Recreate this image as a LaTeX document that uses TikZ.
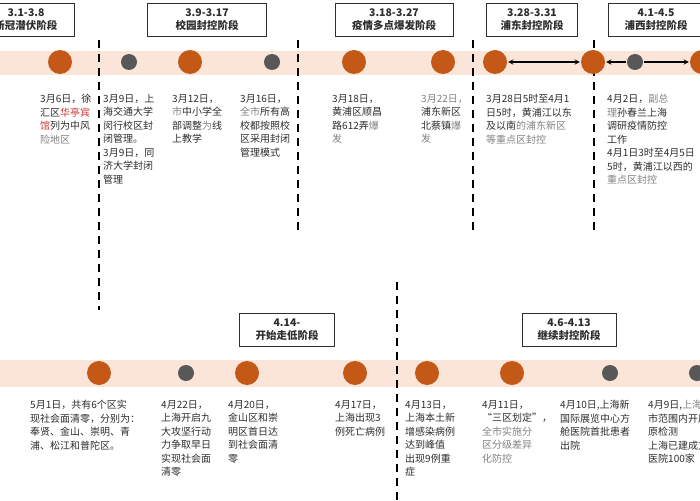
\documentclass[tikz,border=0pt]{standalone}
\usepackage{fontspec}
\setmainfont{Noto Sans CJK SC}
\definecolor{band}{RGB}{251,229,216}
\definecolor{dotorange}{RGB}{196,88,22}
\definecolor{dotgray}{RGB}{88,88,88}
\definecolor{txt}{RGB}{45,45,45}
\definecolor{soft}{RGB}{130,130,130}
\begin{document}
\begin{tikzpicture}[x = 1pt, y = -1pt,
	big/.style = {circle, fill = dotorange, minimum size = 24pt, inner sep = 0pt},
	small/.style = {circle, fill = dotgray, minimum size = 16pt, inner sep = 0pt},
	stage/.style = {draw = txt, thick, fill = white, align = center, font = \fontsize{10.5}{13}\selectfont\bfseries, text = txt, minimum height = 33pt, inner sep = 2pt},
	note/.style = {anchor = north west, align = left, inner sep = 0pt, font = \fontsize{10}{13.5}\selectfont, text = txt},
	divider/.style = {line width = 1.6pt, dash pattern = on 8pt off 6pt},
	span/.style = {line width = 1.3pt, >=stealth, shorten >= 1pt, shorten <= 1pt}]

\useasboundingbox (0,0) rectangle (700,500);
\clip (0,0) rectangle (700,500);

% bands
\fill[band] (0,51) rectangle (700,75);
\fill[band] (0,360) rectangle (700,387);

% dividers
\draw[divider] (99,40) -- (99,310);
\draw[divider] (298,40) -- (298,230);
\draw[divider] (473,40) -- (473,230);
\draw[divider] (594,40) -- (594,230);
\draw[divider] (397,282) -- (397,500);

% stage boxes
\node[stage, minimum width = 96pt] (S1) at (26,20) {3.1-3.8\\新冠潜伏阶段};
\node[stage, minimum width = 119pt] (S2) at (207,20) {3.9-3.17\\校园封控阶段};
\node[stage, minimum width = 118pt] (S3) at (394,20) {3.18-3.27\\疫情多点爆发阶段};
\node[stage, minimum width = 91pt] (S4) at (532,20) {3.28-3.31\\浦东封控阶段};
\node[stage, minimum width = 96pt] (S5) at (656,20) {4.1-4.5\\浦西封控阶段};
\node[stage, minimum width = 95pt] (S6) at (287,330) {4.14-\\开始走低阶段};
\node[stage, minimum width = 94pt] (S7) at (569,330) {4.6-4.13\\继续封控阶段};

% top dots
\node[big] (A1) at (60,62) {};
\node[small] (A2) at (129,62) {};
\node[big] (A3) at (190,62) {};
\node[small] (A4) at (272,62) {};
\node[big] (A5) at (354,62) {};
\node[big] (A6) at (443,62) {};
\node[big] (A7) at (495,62) {};
\node[big] (A8) at (593,62) {};
\node[small] (A9) at (635,62) {};
\node[big] (A10) at (702,62) {};

\draw[span, <->] (A7) -- (A8);
\draw[span, ->] (A9) -- (A8);
\draw[span, ->] (A9) -- (A10);

% bottom dots
\node[big] (B1) at (99,373) {};
\node[small] (B2) at (186,373) {};
\node[big] (B3) at (247,373) {};
\node[big] (B4) at (355,373) {};
\node[big] (B5) at (427,373) {};
\node[big] (B6) at (512,373) {};
\node[small] (B7) at (610,373) {};
\node[small] (B8) at (697,373) {};

% top notes
\node[note] (N1) at (40,94) {3月6日，徐\\汇区\textcolor{red!60!soft}{华亭宾}\\\textcolor{red!60!soft}{馆}列为中风\\\textcolor{soft}{险地区}};
\node[note] (N2) at (103,94) {3月9日，上\\海交通大学\\闵行校区封\\闭管理。\\3月9日，同\\济大学封闭\\管理};
\node[note] (N3) at (172,94) {3月12日，\\\textcolor{soft}{市}中小学全\\部调整\textcolor{soft}{为}线\\上教学};
\node[note] (N4) at (240,94) {3月16日，\\\textcolor{soft}{全市}所有高\\校都按照校\\区采用封闭\\管理模式};
\node[note] (N5) at (332,94) {3月18日，\\黄浦区顺昌\\路612弄\textcolor{soft}{爆}\\\textcolor{soft}{发}};
\node[note] (N6) at (421,94) {\textcolor{soft}{3月22日，}\\浦东新区\\北蔡镇\textcolor{soft}{爆}\\\textcolor{soft}{发}};
\node[note] (N7) at (486,94) {3月28日5时至4月1\\日5时，黄浦江以东\\及以南\textcolor{soft}{的浦东新区}\\\textcolor{soft}{等重点区封控}};
\node[note] (N8) at (607,94) {4月2日，\textcolor{soft}{副总}\\\textcolor{soft}{理}孙春兰上海\\调研疫情防控\\工作\\4月1日3时至4月5日\\5时，黄浦江以西的\\\textcolor{soft}{重点区封控}};

% bottom notes
\node[note] (M1) at (30,400) {5月1日，共有6个区实\\现社会面清零，分别为：\\奉贤、金山、崇明、青\\浦、松江和普陀区。};
\node[note] (M2) at (161,400) {4月22日，\\上海开启九\\大攻坚行动\\力争取早日\\实现社会面\\清零};
\node[note] (M3) at (228,400) {4月20日，\\金山区和崇\\明区首日达\\到社会面清\\零};
\node[note] (M4) at (335,400) {4月17日，\\上海出现3\\例死亡病例};
\node[note] (M5) at (405,400) {4月13日，\\上海本土新\\增感染病例\\达到峰值\\出现9例重\\症};
\node[note] (M6) at (482,400) {4月11日，\\“三区划定”，\\\textcolor{soft}{全市实施分}\\\textcolor{soft}{区分级差异}\\\textcolor{soft}{化防控}};
\node[note] (M7) at (560,400) {4月10日,上海新\\国际展览中心方\\舱医院首批患者\\出院};
\node[note] (M8) at (648,400) {4月9日,\textcolor{soft}{上海全}\\市范围内开展抗\\原检测\\上海已建成方舱\\医院100家};

\end{tikzpicture}
\end{document}
